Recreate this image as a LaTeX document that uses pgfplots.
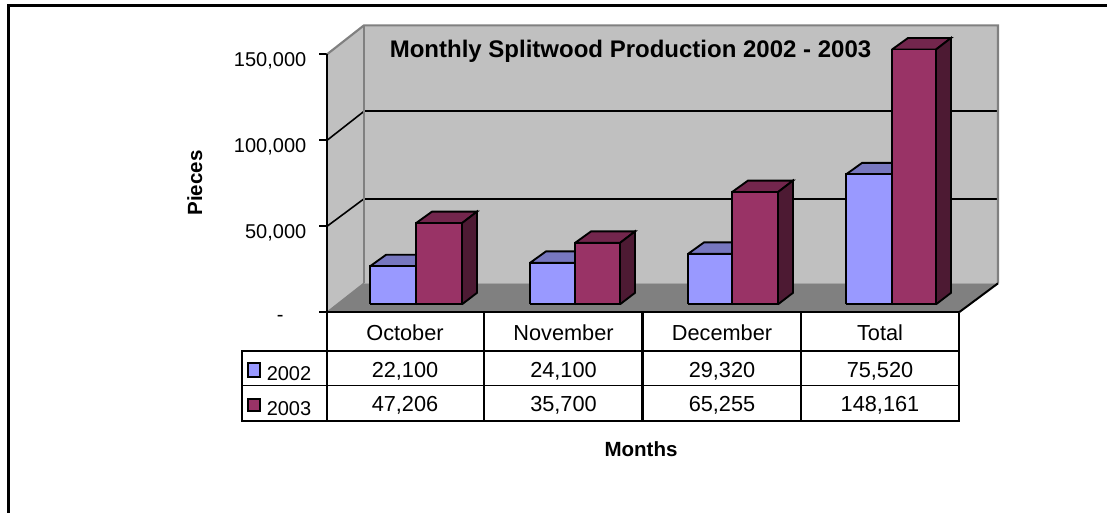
\documentclass[border=0pt]{standalone}
\usepackage{pgfplots}
\pgfplotsset{compat=1.18}
\usepackage{fontspec}
\setmainfont{Liberation Sans}
\definecolor{wallc}{HTML}{C0C0C0}
\definecolor{floorc}{HTML}{808080}
\definecolor{fa}{HTML}{9999FF}
\definecolor{ta}{HTML}{7777BF}
\definecolor{sa}{HTML}{4D4D80}
\definecolor{fb}{HTML}{993366}
\definecolor{tb}{HTML}{73264D}
\definecolor{sb}{HTML}{4D1A33}
% one cuboid: left x, right x, value, front, top, side colours; front base sits 8 px above the axis floor
\newcommand\cuboid[6]{%
 \edef\ya{\the\numexpr #3+4651\relax}\edef\yb{\the\numexpr #3+4651+6686\relax}%
 \edef\xa{\the\numexpr #1+16\relax}\edef\xb{\the\numexpr #2+15\relax}\edef\yc{\the\numexpr 4651+6686\relax}%
 \addplot[draw=black,line width=1.4pt,line join=miter,fill=#5] coordinates {(#1,\ya)(#2,\ya)(\xb,\yb)(\xa,\yb)(#1,\ya)};
 \addplot[draw=black,line width=1.4pt,line join=miter,fill=#6] coordinates {(#2,4651)(\xb,\yc)(\xb,\yb)(#2,\ya)(#2,4651)};
 \addplot[draw=black,line width=1.4pt,line join=miter,fill=#4] coordinates {(#1,4651)(#2,4651)(#2,\ya)(#1,\ya)(#1,4651)};
}
\newcommand\fz[1]{\fontsize{#1}{#1}\selectfont}
\begin{document}
\begin{tikzpicture}
\useasboundingbox (0,0) rectangle (830.25pt,384.75pt);
\fill[white] (0,0) rectangle (830.25pt,384.75pt);
\begin{axis}[
  at={(245.25pt,150.5pt)},anchor=south west,
  scale only axis,width=474pt,height=193.5pt,
  xmin=327,xmax=959,ymin=0,ymax=150000,clip=false,
  axis y line=left,axis x line=none,
  axis line style={-,black,line width=1.7pt},
  xtick=\empty,scaled y ticks=false,
  ytick={0,50000,100000,150000},
  yticklabels={{-\kern17pt},{50,000},{100,000},{150,000}},
  tick style={black,line width=1.6pt},
  tick align=outside,major tick length=6pt,
  yticklabel style={font=\fz{15},yshift=-4.6pt,xshift=-6pt},
]
% side wall, back wall, floor
\addplot[draw=none,fill=wallc] coordinates {(327,0)(364,16860)(364,166860)(327,150000)(327,0)};
\addplot[draw=none,fill=wallc] coordinates {(364,16860)(998,16860)(998,166860)(364,166860)(364,16860)};
\addplot[draw=none,fill=floorc] coordinates {(327,0)(364,16860)(998,16860)(959,0)(327,0)};
% gridlines
\addplot[black,line width=1.5pt] coordinates {(364,65990)(997,65990)};
\addplot[black,line width=1.5pt] coordinates {(364,116860)(997,116860)};
\addplot[black,line width=1.2pt] coordinates {(327,50000)(364,65990)};
\addplot[black,line width=1.2pt] coordinates {(327,100000)(364,116860)};
% wall edges
\addplot[floorc,line width=1.6pt] coordinates {(327,150000)(364,166860)(998,166860)(998,16860)};
\addplot[floorc,line width=1.2pt] coordinates {(364,16860)(364,166860)};
\addplot[floorc,line width=1.2pt] coordinates {(327,0)(364,16860)};
\addplot[black,line width=1.5pt] coordinates {(959,0)(998,16860)};
\addplot[black,line width=1.7pt] coordinates {(327,0)(327,150000)};
% bars: 2002 then 2003
\cuboid{370}{416}{22100}{fa}{ta}{sa}
\cuboid{416}{462}{47206}{fb}{tb}{sb}
\cuboid{530}{575}{24100}{fa}{ta}{sa}
\cuboid{575}{620}{35700}{fb}{tb}{sb}
\cuboid{688}{732}{29320}{fa}{ta}{sa}
\cuboid{732}{778}{65255}{fb}{tb}{sb}
\cuboid{846}{892}{75520}{fa}{ta}{sa}
\cuboid{892}{936}{148161}{fb}{tb}{sb}
\addplot[black,line width=1.7pt] coordinates {(327,0)(959,0)};
\end{axis}
\begin{scope}[x=0.75pt,y=-0.75pt,shift={(0,384.75pt)}]
\draw[black,line width=1.6pt] (8.5,513) -- (8.5,5.5) -- (1107,5.5);
% data table
\draw[black,line width=1.6pt] (327,313) -- (327,421) (484,313) -- (484,421) (642.5,313) -- (642.5,421) (801,313) -- (801,421) (959,313) -- (959,421);
\draw[black,line width=1.6pt] (242,351) rectangle (959,421);
\draw[black,line width=1pt] (242,385.5) -- (959,385.5);
\draw[black,line width=1.2pt,fill=fa] (248,363) rectangle (260,377);
\draw[black,line width=1.2pt,fill=fb] (248,399) rectangle (260,411);
\tikzset{cell/.style={anchor=base,font=\fz{16.3}}}
\node[cell] at (405,341) {October};
\node[cell] at (563.5,341) {November};
\node[cell] at (722,341) {December};
\node[cell] at (880,341) {Total};
\node[cell] at (405,377.5) {22,100};
\node[cell] at (563.5,377.5) {24,100};
\node[cell] at (722,377.5) {29,320};
\node[cell] at (880,377.5) {75,520};
\node[cell] at (405,412) {47,206};
\node[cell] at (563.5,412) {35,700};
\node[cell] at (722,412) {65,255};
\node[cell] at (880,412) {148,161};
\node[anchor=base,font=\fz{15}] at (289,381) {2002};
\node[anchor=base,font=\fz{15}] at (289,416) {2003};
\node[anchor=base,font=\bfseries\fz{18}] at (630.5,58) {Monthly Splitwood Production 2002 - 2003};
\node[anchor=base,font=\bfseries\fz{15.4}] at (641,456.5) {Months};
\node[anchor=base,rotate=90,font=\bfseries\fz{15.4}] at (202,183) {Pieces};
\end{scope}
\end{tikzpicture}
\end{document}
